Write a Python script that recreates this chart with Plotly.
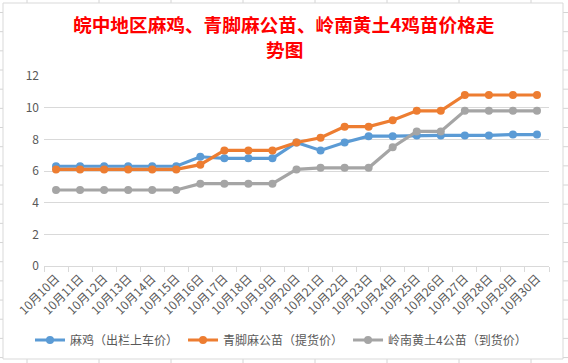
import plotly.graph_objects as go

dates = ["10月10日", "10月11日", "10月12日", "10月13日", "10月14日", "10月15日", "10月16日",
         "10月17日", "10月18日", "10月19日", "10月20日", "10月21日", "10月22日", "10月23日",
         "10月24日", "10月25日", "10月26日", "10月27日", "10月28日", "10月29日", "10月30日"]
maji = [6.3, 6.3, 6.3, 6.3, 6.3, 6.3, 6.9, 6.8, 6.8, 6.8, 7.8, 7.3, 7.8, 8.2,
        8.2, 8.25, 8.25, 8.25, 8.25, 8.3, 8.3]
qingjiao = [6.1, 6.1, 6.1, 6.1, 6.1, 6.1, 6.4, 7.3, 7.3, 7.3, 7.8, 8.1, 8.8, 8.8,
            9.2, 9.8, 9.8, 10.8, 10.8, 10.8, 10.8]
lingnan = [4.8, 4.8, 4.8, 4.8, 4.8, 4.8, 5.2, 5.2, 5.2, 5.2, 6.1, 6.2, 6.2, 6.2,
           7.5, 8.5, 8.5, 9.8, 9.8, 9.8, 9.8]
series_names = ["麻鸡（出栏上车价）", "青脚麻公苗（提货价）", "岭南黄土4公苗（到货价）"]
colors = ["#5b9bd5", "#ed7d31", "#a5a5a5"]
title_lines = ["皖中地区麻鸡、青脚麻公苗、岭南黄土4鸡苗价格走", "势图"]

W, H = 568, 363
PL, PR, PT, PB = 44, 549, 76, 266  # plot area in pixels


def px(x):
    return (x - PL) / (PR - PL)


def py(y):
    return (PB - y) / (PB - PT)


FONT = "Noto Sans CJK SC, Noto Sans, sans-serif"

fig = go.Figure()
for name, vals, c in zip(series_names, [maji, qingjiao, lingnan], colors):
    fig.add_trace(go.Scatter(
        x=dates, y=vals, name=name, mode="lines+markers",
        line=dict(color=c, width=3.2),
        marker=dict(color=c, size=8, symbol="circle"),
    ))

shapes = []
grid_c = "#d4d4d4"
# spreadsheet column lines
for i in range(8):
    x = 27 + 72 * i
    shapes.append(dict(type="line", xref="paper", yref="paper",
                       x0=px(x), x1=px(x), y0=py(0), y1=py(H),
                       line=dict(color=grid_c, width=1), layer="below"))
# spreadsheet row lines
y = 12.5
while y < H:
    shapes.append(dict(type="line", xref="paper", yref="paper",
                       x0=px(0), x1=px(W), y0=py(y), y1=py(y),
                       line=dict(color=grid_c, width=1), layer="below"))
    y += 19.17
# chart area
shapes.append(dict(type="rect", xref="paper", yref="paper",
                   x0=px(3), x1=px(563), y0=py(3), y1=py(359),
                   fillcolor="white", line=dict(color="#d9d9d9", width=1),
                   layer="below"))

annotations = []
for txt, yc in zip(title_lines, [23, 48]):
    annotations.append(dict(text=f"<b>{txt}</b>", xref="paper", yref="paper",
                            x=px(284), y=py(yc), xanchor="center", yanchor="middle",
                            showarrow=False,
                            font=dict(family=FONT, size=18.67, color="#ff0000")))

fig.update_layout(
    width=W, height=H,
    margin=dict(l=PL, r=W - PR, t=PT, b=H - PB, pad=0, autoexpand=False),
    paper_bgcolor="white",
    plot_bgcolor="rgba(0,0,0,0)",
    font=dict(family=FONT, size=12, color="#595959"),
    showlegend=True,
    legend=dict(orientation="h", x=281 / W, xref="container", xanchor="center",
                y=1 - 340 / H, yref="container", yanchor="middle",
                font=dict(family=FONT, size=12, color="#595959"),
                bgcolor="rgba(0,0,0,0)"),
    shapes=shapes,
    annotations=annotations,
)
fig.update_xaxes(type="category", categoryorder="array", categoryarray=dates,
                 range=[-0.5, len(dates) - 0.5], showgrid=False, automargin=False,
                 showline=True, linecolor="#d9d9d9", linewidth=1,
                 ticks="outside", tickson="boundaries", ticklen=5, tickcolor="#d9d9d9",
                 tickangle=-45, tickfont=dict(size=12, color="#595959"), zeroline=False)
fig.update_yaxes(range=[0, 12], dtick=2, tick0=0, showgrid=True, gridcolor="#d9d9d9",
                 gridwidth=1, zeroline=False, showline=False, ticks="", automargin=False,
                 tickfont=dict(size=12, color="#595959"), ticklabelstandoff=4)

fig.write_html("out.html", config={"displayModeBar": False},
               post_script="document.body.style.margin='0';document.body.style.overflow='hidden';")
